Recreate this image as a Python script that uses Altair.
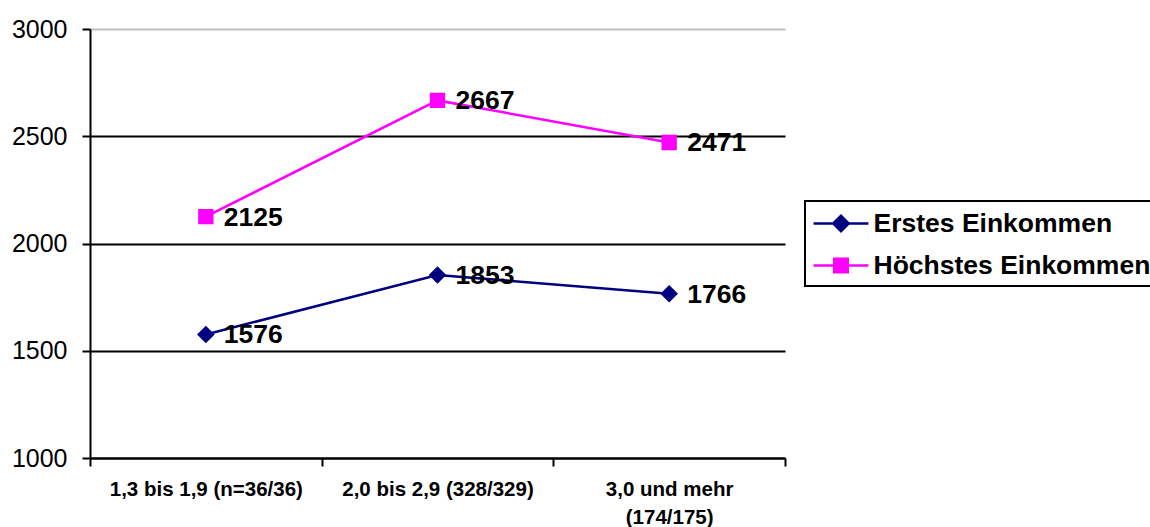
import altair as alt
import pandas as pd

# Einkommen nach Abschlussnote
categories = ["1,3 bis 1,9 (n=36/36)", "2,0 bis 2,9 (328/329)", "3,0 und mehr (174/175)"]
series = ["Erstes Einkommen", "Höchstes Einkommen"]
erstes = [1576, 1853, 1766]
hoechstes = [2125, 2667, 2471]
series_colors = ["#000080", "#FF00FF"]
y_ticks = [1000, 1500, 2000, 2500, 3000]

rows = []
for cat, a, b in zip(categories, erstes, hoechstes):
    rows.append({"Gruppe": cat, "Serie": series[0], "Wert": a})
    rows.append({"Gruppe": cat, "Serie": series[1], "Wert": b})
df = pd.DataFrame(rows)

FONT = "Liberation Sans"

# marker shapes; the horizontal stub only shows where a stroke is drawn (legend)
marker_paths = [
    "M-1.96,0H1.96M-0.55,0L0,-0.55L0.55,0L0,0.55Z",
    "M-1.96,0H1.96M-0.48,-0.48H0.48V0.48H-0.48Z",
]

last_cat = categories[2]
x_enc = alt.X(
    "Gruppe:N",
    sort=categories,
    scale=alt.Scale(type="band", paddingInner=0, paddingOuter=0),
    axis=alt.Axis(
        title=None,
        labelAngle=0,
        labelFontSize=20.5,
        labelFontWeight="bold",
        labelPadding=13,
        labelLimit=400,
        labelLineHeight=28,
        tickBand="extent",
        grid=False,
        labelExpr=f"datum.value == '{last_cat}' ? ['3,0 und mehr', '(174/175)'] : datum.label",
    ),
)
y_enc = alt.Y(
    "Wert:Q",
    scale=alt.Scale(domain=[1000, 3000], nice=False, zero=False),
    axis=alt.Axis(
        title=None,
        values=y_ticks,
        format="d",
        grid=True,
        gridColor=alt.condition("datum.value >= 3000", alt.value("#c0c0c0"), alt.value("black")),
        gridWidth=2,
        labelFontSize=25,
        labelPadding=15,
    ),
)

legend_props = dict(
    orient="none",
    legendX=715,
    legendY=172,
    title=None,
    strokeColor="black",
    padding=7,
    labelFont=FONT,
    labelFontSize=26.5,
    labelFontWeight="bold",
    labelColor="black",
    labelLimit=600,
    labelOffset=17,
    symbolSize=784,
    symbolOffset=13.5,
    symbolStrokeWidth=2.5,
    symbolFillColor="black",
    rowPadding=13,
)

fill_scale = alt.Scale(domain=series, range=series_colors)
stroke_scale = alt.Scale(domain=series, range=series_colors)
shape_scale = alt.Scale(domain=series, range=marker_paths)

base = alt.Chart(df).encode(x=x_enc, y=y_enc)

lines = base.mark_line(strokeWidth=2.5).encode(
    stroke=alt.Stroke("Serie:N", scale=stroke_scale, legend=alt.Legend(**legend_props))
)

markers = base.mark_point(filled=True, opacity=1, size=1024).encode(
    fill=alt.Fill("Serie:N", scale=fill_scale, legend=alt.Legend(**legend_props)),
    stroke=alt.Stroke("Serie:N", scale=stroke_scale, legend=alt.Legend(**legend_props)),
    shape=alt.Shape("Serie:N", scale=shape_scale, legend=alt.Legend(**legend_props)),
    strokeWidth=alt.value(0),
)

labels = base.mark_text(
    align="left", baseline="middle", dx=18, dy=1,
    font=FONT, fontSize=26.5, fontWeight="bold", color="black",
).encode(text=alt.Text("Wert:Q", format="d"))

chart = (
    alt.layer(lines, markers, labels)
    .properties(
        width=695,
        height=429,
        autosize=alt.AutoSizeParams(type="none"),
        padding={"left": 90, "top": 29, "right": 365, "bottom": 69},
    )
    .configure_view(stroke=None)
    .configure_axis(
        labelFont=FONT,
        labelColor="black",
        domainColor="black",
        domainWidth=2,
        tickColor="black",
        tickWidth=2,
        tickSize=8,
    )
    .configure_legend(strokeWidth=2)
)

chart.save("out.html", embed_options={"renderer": "svg", "actions": False})
